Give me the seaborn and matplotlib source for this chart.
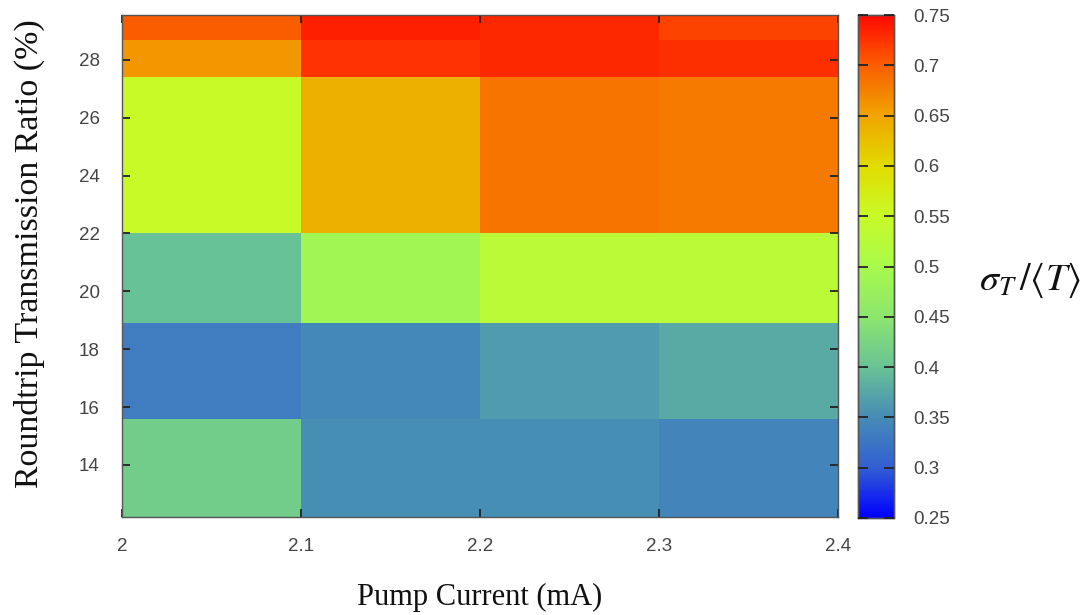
import numpy as np
import pandas as pd
import matplotlib
matplotlib.use("Agg")
import matplotlib.pyplot as plt
import seaborn as sns
from matplotlib.colors import LinearSegmentedColormap

# ---- data ----
pump_current_edges = [2.0, 2.1, 2.2, 2.3, 2.4]                      # mA
transmission_edges = [12.2, 15.6, 18.9, 22.0, 27.4, 28.7, 29.55]    # %
# rows: bottom -> top, columns: 2.0-2.1, 2.1-2.2, 2.2-2.3, 2.3-2.4
row_1 = [0.415, 0.352, 0.352, 0.342]
row_2 = [0.333, 0.345, 0.365, 0.378]
row_3 = [0.400, 0.490, 0.530, 0.530]
row_4 = [0.550, 0.640, 0.685, 0.680]
row_5 = [0.660, 0.725, 0.732, 0.728]
row_6 = [0.700, 0.738, 0.732, 0.715]
x_ticks = [2.0, 2.1, 2.2, 2.3, 2.4]
x_tick_labels = ["2", "2.1", "2.2", "2.3", "2.4"]
y_ticks = [14, 16, 18, 20, 22, 24, 26, 28]
cbar_ticks = [0.25, 0.3, 0.35, 0.4, 0.45, 0.5, 0.55, 0.6, 0.65, 0.7, 0.75]
cbar_tick_labels = ["0.25", "0.3", "0.35", "0.4", "0.45", "0.5", "0.55",
                    "0.6", "0.65", "0.7", "0.75"]

values = np.array([row_1, row_2, row_3, row_4, row_5, row_6])
xe = np.array(pump_current_edges)
ye = np.array(transmission_edges)
xc = (xe[:-1] + xe[1:]) / 2
yc = (ye[:-1] + ye[1:]) / 2
XX, YY = np.meshgrid(xc, yc)
df = pd.DataFrame({"current": XX.ravel(), "ratio": YY.ravel(), "val": values.ravel()})

# ---- colormap ----
anchors = [
    (0.25, (0, 0, 255)), (0.30, (50, 95, 210)), (0.35, (70, 140, 182)),
    (0.40, (105, 195, 150)), (0.45, (140, 230, 110)), (0.50, (168, 250, 75)),
    (0.55, (200, 250, 40)), (0.60, (225, 220, 0)), (0.65, (240, 165, 0)),
    (0.70, (250, 95, 0)), (0.75, (255, 10, 0)),
]
cmap = LinearSegmentedColormap.from_list(
    "custom", [((v - 0.25) / 0.5, tuple(c / 255 for c in col)) for v, col in anchors])

sns.set_theme(style="white")
plt.rcParams["font.family"] = ["Liberation Sans", "DejaVu Sans"]
plt.rcParams["mathtext.fontset"] = "stix"
plt.rcParams["axes.axisbelow"] = False

fig = plt.figure(figsize=(10.89, 6.15), dpi=100)
ax = fig.add_axes([122 / 1089, 1 - 517 / 615, (838 - 122) / 1089, (517 - 15) / 615])
cax = fig.add_axes([858 / 1089, 1 - 518 / 615, (894 - 858) / 1089, (518 - 15) / 615])

sns.histplot(data=df, x="current", y="ratio", weights="val",
             bins=[xe, ye], cmap=cmap, vmin=0.25, vmax=0.75, thresh=None,
             cbar=True, cbar_ax=cax, ax=ax)

ax.set_axisbelow(False)
ax.set_xlim(xe[0], xe[-1])
ax.set_ylim(ye[0], ye[-1])
ax.set_xticks(x_ticks)
ax.set_xticklabels(x_tick_labels)
ax.set_yticks(y_ticks)
tick_color = "#444444"
ax.tick_params(axis="both", direction="in", length=6, width=1.3, color="#222222",
               labelsize=13.5, labelcolor=tick_color, top=True, right=True,
               bottom=True, left=True)
ax.tick_params(axis="y", pad=16)
ax.tick_params(axis="x", pad=15)
for s in ax.spines.values():
    s.set_visible(True)
    s.set_color("#555555")
    s.set_linewidth(1.0)
    s.set_zorder(5)

ax.set_xlabel("Pump Current (mA)", family=["Liberation Serif", "DejaVu Serif"],
              fontsize=22, color="#111111", labelpad=20)
ax.set_ylabel("Roundtrip Transmission Ratio (%)", family=["Liberation Serif", "DejaVu Serif"],
              fontsize=24.5, color="#111111")
ax.yaxis.set_label_coords(-0.108, 0.524)

cax.set_axisbelow(False)
cax.set_ylim(0.25, 0.75)
cax.set_yticks(cbar_ticks)
cax.set_yticklabels(cbar_tick_labels)
cax.tick_params(axis="y", direction="in", length=7, width=1.3, color="#222222",
                labelsize=13.5, labelcolor=tick_color, left=True, right=True,
                labelleft=False, labelright=True, pad=14)
for s in cax.spines.values():
    s.set_visible(True)
    s.set_color("#555555")
    s.set_linewidth(1.0)

fig.text(1030 / 1089, 1 - 280 / 615, r"$\sigma_T\,/\langle T\rangle$", fontsize=27.5,
         ha="center", va="center", color="#111111")

fig.savefig("out.png", dpi=100)
